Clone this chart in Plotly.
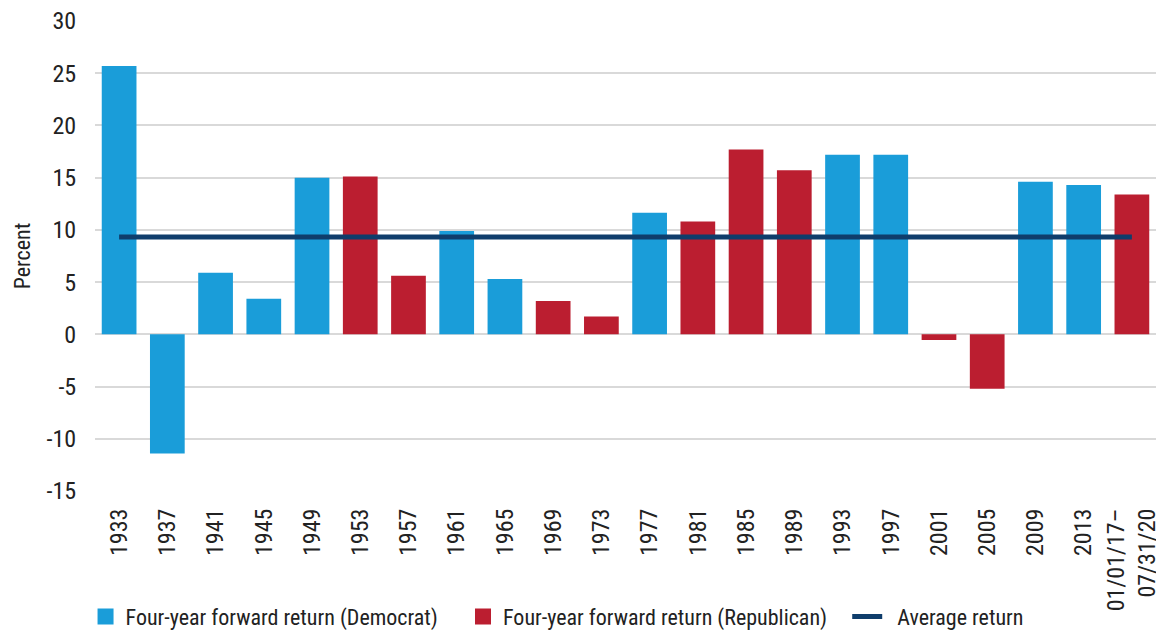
import plotly.graph_objects as go

categories = ["1933", "1937", "1941", "1945", "1949", "1953", "1957", "1961", "1965", "1969",
              "1973", "1977", "1981", "1985", "1989", "1993", "1997", "2001", "2005", "2009",
              "2013", "01/01/17–<br>07/31/20"]
returns = [25.7, -11.4, 5.9, 3.4, 15.0, 15.1, 5.6, 9.9, 5.3, 3.2,
           1.7, 11.65, 10.8, 17.7, 15.7, 17.2, 17.2, -0.55, -5.2, 14.6,
           14.3, 13.4]
party = ["D", "D", "D", "D", "D", "R", "R", "D", "D", "R",
         "R", "D", "R", "R", "R", "D", "D", "R", "R", "D",
         "D", "R"]
average_return = 9.33

y_ticks = [-15, -10, -5, 0, 5, 10, 15, 20, 25, 30]
y_tick_text = ["-15", "-10", "-5", "0", "5", "10", "15", "20", "25", "30"]

dem_x = [c for c, p in zip(categories, party) if p == "D"]
dem_y = [v for v, p in zip(returns, party) if p == "D"]
rep_x = [c for c, p in zip(categories, party) if p == "R"]
rep_y = [v for v, p in zip(returns, party) if p == "R"]

BLUE, RED, NAVY = "#1a9dd9", "#bb1e30", "#0f3d6b"
FONT = "Liberation Sans Narrow, Roboto Condensed, Arial Narrow, Roboto, sans-serif"
NB = "\u00a0"

fig = go.Figure()
fig.add_trace(go.Bar(x=dem_x, y=dem_y, name="Four-year forward return (Democrat)",
                     marker=dict(color=BLUE, line=dict(width=0)), showlegend=False))
fig.add_trace(go.Bar(x=rep_x, y=rep_y, name="Four-year forward return (Republican)",
                     marker=dict(color=RED, line=dict(width=0)), showlegend=False))
fig.add_trace(go.Scatter(x=categories, y=[average_return] * len(categories), mode="lines",
                         name="Average return", line=dict(color=NAVY, width=5),
                         showlegend=False))
# legend entries
fig.add_trace(go.Scatter(x=[None], y=[None], mode="markers",
                         name="Four-year forward return (Democrat)" + NB * 4,
                         marker=dict(symbol="square", size=16, color=BLUE)))
fig.add_trace(go.Scatter(x=[None], y=[None], mode="markers",
                         name="Four-year forward return (Republican)" + NB * 3,
                         marker=dict(symbol="square", size=16, color=RED)))
fig.add_trace(go.Scatter(x=[None], y=[None], mode="lines", name=NB * 2 + "Average return",
                         line=dict(color=NAVY, width=5)))

fig.update_layout(
    width=1156, height=630,
    margin=dict(l=95, r=0, t=21, b=139, autoexpand=False),
    paper_bgcolor="white", plot_bgcolor="white",
    barmode="overlay", bargap=0.28,
    font=dict(family=FONT, size=22, color="#222222"),
    showlegend=True,
    legend=dict(orientation="h", xref="container", yref="container",
                x=0.074, xanchor="left", y=0.021, yanchor="middle",
                font=dict(size=22, color="#222222"), traceorder="normal",
                itemwidth=30, tracegroupgap=0, bgcolor="rgba(0,0,0,0)"),
)
fig.update_xaxes(type="category", categoryorder="array", categoryarray=categories,
                 tickangle=-90, showgrid=False, zeroline=False, showline=False,
                 ticks="outside", ticklen=7, tickcolor="rgba(0,0,0,0)",
                 tickfont=dict(size=24), range=[-0.5, len(categories) - 0.5],
                 automargin=False)
fig.update_yaxes(range=[-15, 30], tickvals=y_ticks, ticktext=y_tick_text,
                 showgrid=True, gridcolor="#d9d9d9",
                 gridwidth=2, zeroline=True, zerolinecolor="#d9d9d9", zerolinewidth=2,
                 showline=False, ticks="outside", ticklen=13, tickcolor="rgba(0,0,0,0)",
                 tickfont=dict(size=24), automargin=False,
                 title=dict(text="Percent", font=dict(size=22), standoff=9))

fig.write_html("out.html", config={"displayModeBar": False},
               post_script="document.body.style.margin='0';document.body.style.overflow='hidden';")
